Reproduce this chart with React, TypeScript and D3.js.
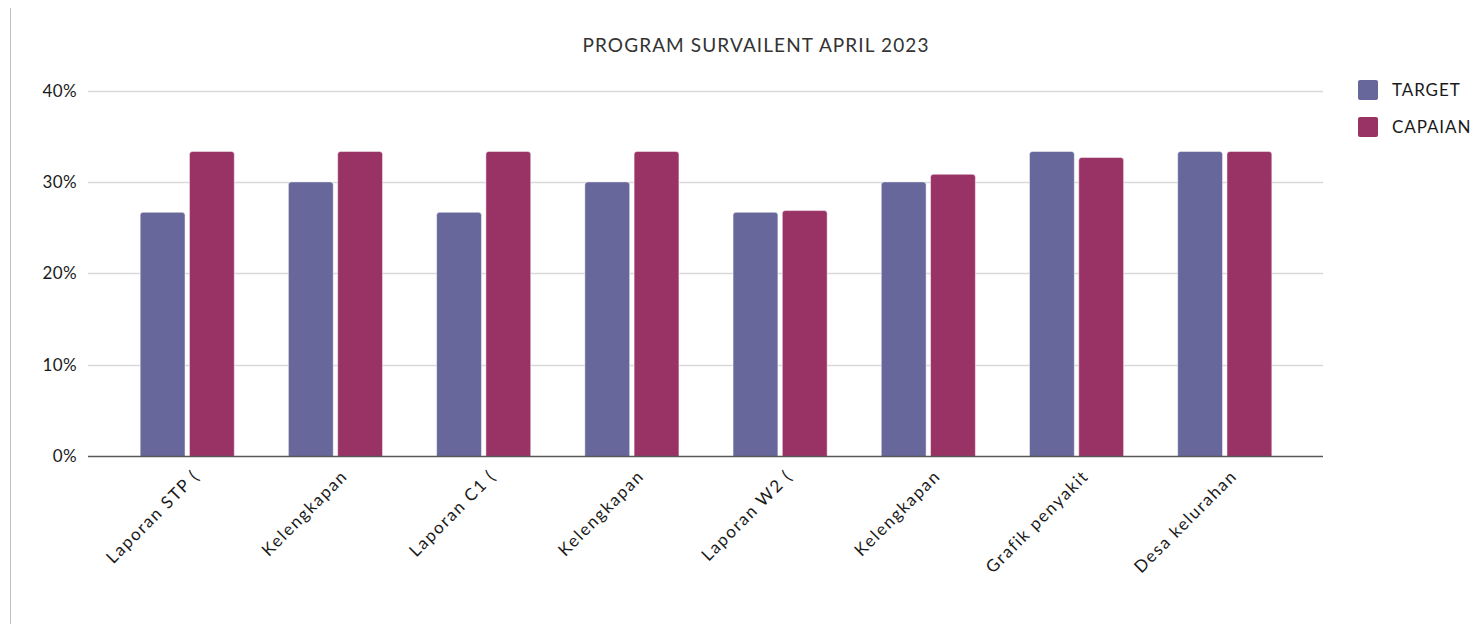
import React, { useRef, useEffect } from "react";
import * as d3 from "d3";

const categories = [
  "Laporan STP (",
  "Kelengkapan",
  "Laporan C1 (",
  "Kelengkapan",
  "Laporan W2 (",
  "Kelengkapan",
  "Grafik penyakit",
  "Desa kelurahan",
];
const target = [0.2667, 0.3, 0.2667, 0.3, 0.2667, 0.3, 0.3333, 0.3333];
const capaian = [0.3333, 0.3333, 0.3333, 0.3333, 0.2686, 0.3083, 0.3267, 0.3333];
const seriesNames = ["TARGET", "CAPAIAN"];
const yTicks = [0, 0.1, 0.2, 0.3, 0.4];

const colors: Record<string, string> = { TARGET: "#67679b", CAPAIAN: "#993366" };
const font = "Lato, 'Open Sans', sans-serif";

const App = () => {
  const ref = useRef<SVGSVGElement>(null);

  useEffect(() => {
    const height = 624;
    const svg = d3.select(ref.current);
    svg.selectAll("*").remove();

    // left frame line
    svg
      .append("line")
      .attr("x1", 10.5)
      .attr("x2", 10.5)
      .attr("y1", 8)
      .attr("y2", height)
      .attr("stroke", "#bfbfbf");

    const y = d3.scaleLinear().domain([0, 0.4]).range([456, 90.5]);
    const x = d3
      .scaleBand<number>()
      .domain(d3.range(categories.length))
      .range([113.5, 1298.5])
      .paddingInner(0.365)
      .paddingOuter(0.18);
    const inner = d3
      .scaleBand<string>()
      .domain(seriesNames)
      .range([0, x.bandwidth()])
      .paddingInner(0.09);

    // gridlines
    svg
      .append("g")
      .selectAll("line")
      .data(yTicks.slice(1))
      .join("line")
      .attr("x1", 88)
      .attr("x2", 1323)
      .attr("y1", (d) => Math.round(y(d)) + 0.5)
      .attr("y2", (d) => Math.round(y(d)) + 0.5)
      .attr("stroke", "#d9d9d9")
      .attr("stroke-width", 1.3);

    // y labels
    svg
      .append("g")
      .selectAll("text")
      .data(yTicks)
      .join("text")
      .attr("x", 77)
      .attr("y", (d) => y(d) + 6)
      .attr("text-anchor", "end")
      .style("font-family", font)
      .style("font-size", "17px")
      .style("letter-spacing", "0.4px")
      .style("fill", "#1a1a1a")
      .text((d) => d3.format(".0%")(d));

    // bars
    const groups = svg
      .append("g")
      .selectAll("g")
      .data(categories.map((c, i) => i))
      .join("g")
      .attr("transform", (i) => `translate(${x(i)},0)`);

    groups
      .selectAll("rect")
      .data((i) => [
        { key: "TARGET", value: target[i] },
        { key: "CAPAIAN", value: capaian[i] },
      ])
      .join("rect")
      .attr("x", (d) => inner(d.key)!)
      .attr("y", (d) => y(d.value))
      .attr("width", inner.bandwidth())
      .attr("height", (d) => y(0) - y(d.value) + 3)
      .attr("rx", 3)
      .attr("fill", (d) => colors[d.key])
      .attr("stroke", "#ffffff")
      .attr("stroke-opacity", 0.6)
      .attr("stroke-width", 0.8);

    // cover the rounding at the base
    svg
      .append("rect")
      .attr("x", 80)
      .attr("y", 457)
      .attr("width", 1260)
      .attr("height", 5)
      .attr("fill", "#fff");

    // x axis line
    svg
      .append("line")
      .attr("x1", 88)
      .attr("x2", 1323)
      .attr("y1", 456.5)
      .attr("y2", 456.5)
      .attr("stroke", "#595959")
      .attr("stroke-width", 1.5);

    // x labels
    svg
      .append("g")
      .selectAll("text")
      .data(categories)
      .join("text")
      .attr("transform", (d, i) => `translate(${x(i)! + x.bandwidth() / 2 + 9},${473}) rotate(-45)`)
      .attr("text-anchor", "end")
      .attr("dy", "0.35em")
      .style("font-family", font)
      .style("font-size", "17px")
      .style("letter-spacing", "1.6px")
      .style("fill", "#1a1a1a")
      .text((d) => d);

    // title
    svg
      .append("text")
      .attr("x", 756)
      .attr("y", 52)
      .attr("text-anchor", "middle")
      .style("font-family", font)
      .style("font-size", "19px")
      .style("letter-spacing", "1.1px")
      .style("fill", "#333")
      .text("PROGRAM SURVAILENT APRIL 2023");

    // legend
    const legend = svg
      .append("g")
      .selectAll("g")
      .data(seriesNames)
      .join("g")
      .attr("transform", (d, i) => `translate(1358,${80 + i * 37})`);
    legend
      .append("rect")
      .attr("width", 20)
      .attr("height", 20)
      .attr("rx", 2)
      .attr("fill", (d) => colors[d]);
    legend
      .append("text")
      .attr("x", 34)
      .attr("y", 16)
      .style("font-family", font)
      .style("font-size", "17px")
      .style("letter-spacing", "0.9px")
      .style("fill", "#1a1a1a")
      .text((d) => d);
  }, []);

  return (
    <svg
      ref={ref}
      width={1481}
      height={624}
      style={{ position: "absolute", left: 0, top: 0, background: "#fff" }}
    />
  );
};

export default App;
